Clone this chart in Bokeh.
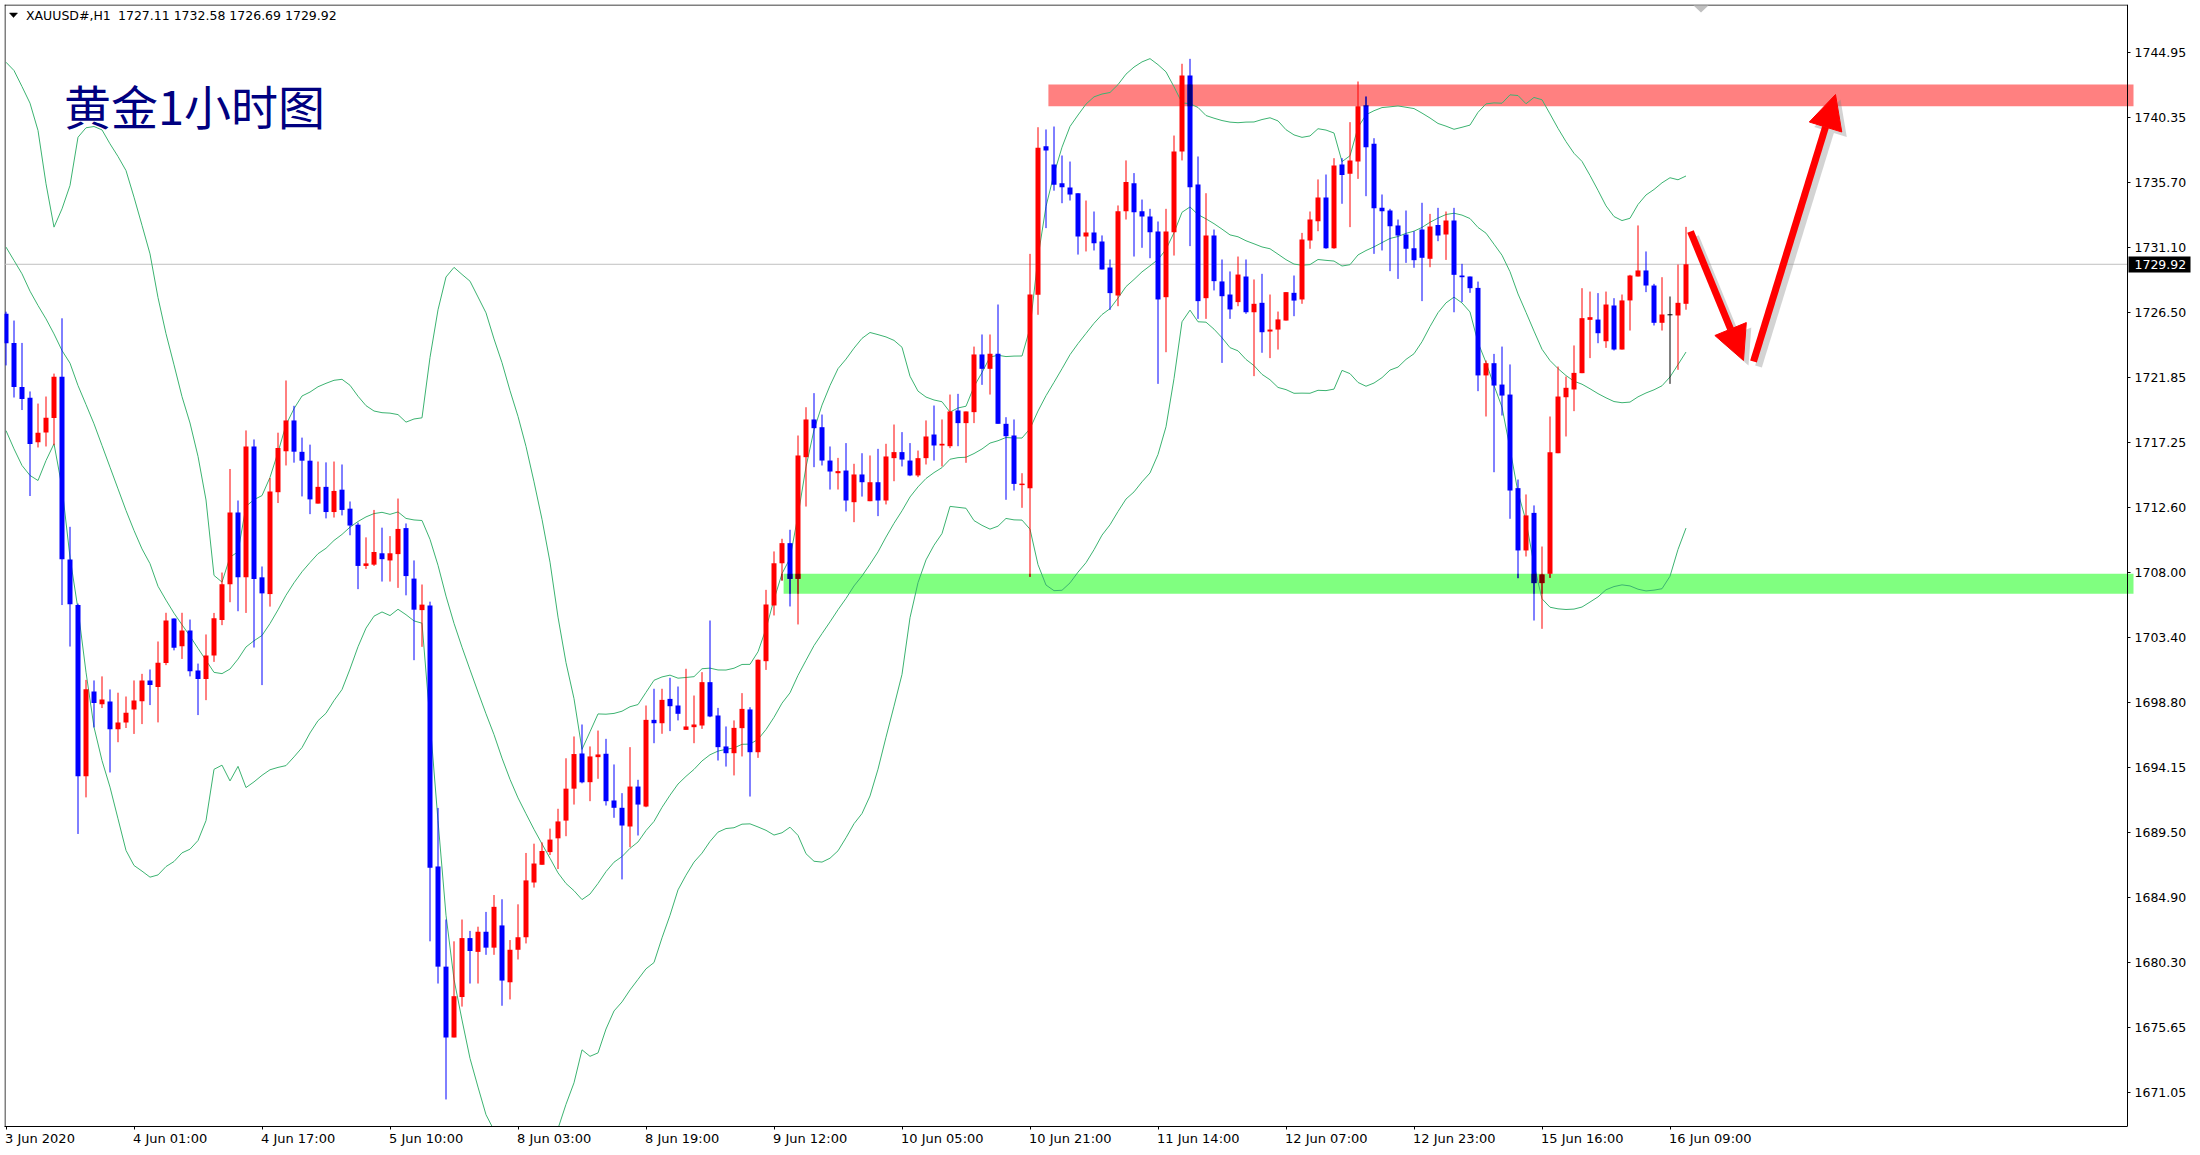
import numpy as np
import pandas as pd
from bokeh.plotting import figure
from bokeh.models import Range1d, FixedTicker, Label, Arrow, NormalHead, ColumnDataSource, LinearAxis
from bokeh.core.properties import value
from bokeh.embed import file_html
from bokeh.resources import INLINE

# ---------------- data (XAUUSD H1) ----------------
bar_open = [
    1726.40, 1724.33, 1721.20, 1720.43, 1717.27, 1717.97, 1718.99, 1721.92, 1708.94, 1705.70,
    1693.53, 1699.55, 1698.65, 1698.85, 1696.87, 1697.36, 1698.27, 1698.87, 1700.34, 1699.87,
    1701.58, 1704.75, 1702.78, 1703.89, 1701.05, 1700.44, 1702.12, 1704.63, 1707.17, 1712.27,
    1707.67, 1716.97, 1707.67, 1706.48, 1713.72, 1716.63, 1718.82, 1716.59, 1715.96, 1712.91,
    1714.10, 1712.31, 1713.90, 1712.55, 1711.41, 1708.48, 1708.57, 1709.38, 1708.87, 1709.32,
    1711.17, 1707.58, 1705.34, 1705.67, 1687.12, 1680.00, 1674.97, 1677.84, 1682.03, 1681.05,
    1682.48, 1681.35, 1682.93, 1678.89, 1681.20, 1682.09, 1685.98, 1687.24, 1688.14, 1689.12,
    1690.38, 1692.65, 1695.15, 1693.11, 1694.89, 1695.13, 1691.81, 1691.29, 1689.96, 1692.80,
    1691.38, 1697.54, 1697.30, 1699.03, 1698.56, 1696.83, 1697.02, 1697.14, 1700.22, 1697.85,
    1695.65, 1695.17, 1696.95, 1698.28, 1695.24, 1701.71, 1705.67, 1708.67, 1710.10, 1707.56,
    1716.21, 1718.89, 1718.34, 1715.97, 1715.07, 1715.26, 1713.01, 1714.98, 1713.08, 1714.43,
    1713.13, 1716.14, 1716.57, 1715.97, 1714.91, 1716.14, 1717.82, 1717.04, 1716.99, 1719.53,
    1718.63, 1719.41, 1723.51, 1722.49, 1723.56, 1718.58, 1717.75, 1714.26, 1714.01, 1727.75,
    1738.31, 1737.01, 1735.68, 1735.38, 1734.97, 1731.89, 1732.18, 1731.54, 1729.69, 1727.70,
    1733.69, 1735.68, 1733.69, 1733.31, 1732.25, 1727.58, 1732.20, 1737.94, 1743.34, 1735.59,
    1727.51, 1731.96, 1728.70, 1727.77, 1727.23, 1729.05, 1726.51, 1727.18, 1725.14, 1725.28,
    1725.92, 1727.89, 1727.42, 1731.61, 1732.98, 1734.66, 1731.06, 1737.01, 1736.35, 1737.22,
    1741.20, 1738.48, 1733.93, 1733.74, 1732.67, 1732.03, 1731.06, 1732.39, 1730.31, 1732.72,
    1732.03, 1733.03, 1729.12, 1729.05, 1728.24, 1722.02, 1722.89, 1721.37, 1720.66, 1714.01,
    1709.58, 1712.25, 1707.26, 1707.92, 1716.49, 1720.47, 1721.02, 1722.18, 1725.97, 1725.99,
    1724.45, 1726.99, 1723.86, 1727.35, 1729.05, 1729.48, 1728.41, 1725.76, 1726.33, 1726.28,
    1727.11]

bar_high = [
    1726.55, 1725.92, 1724.33, 1720.88, 1720.02, 1720.52, 1722.15, 1726.08, 1711.26, 1705.80,
    1700.38, 1700.34, 1700.63, 1699.70, 1699.47, 1699.20, 1700.34, 1700.81, 1701.12, 1703.11,
    1705.15, 1704.75, 1705.15, 1704.67, 1701.54, 1703.61, 1705.14, 1708.01, 1715.37, 1713.13,
    1718.11, 1717.47, 1708.44, 1714.73, 1717.95, 1721.66, 1719.86, 1717.60, 1717.10, 1715.90,
    1715.84, 1715.90, 1715.69, 1713.06, 1711.56, 1710.51, 1712.46, 1711.20, 1710.60, 1713.27,
    1711.50, 1708.87, 1707.16, 1705.94, 1691.28, 1683.35, 1681.80, 1683.35, 1682.54, 1682.84,
    1683.89, 1685.09, 1684.79, 1681.89, 1684.43, 1688.08, 1688.74, 1688.83, 1689.81, 1691.22,
    1694.81, 1696.36, 1697.21, 1695.65, 1696.78, 1696.19, 1694.37, 1692.33, 1695.60, 1693.28,
    1698.56, 1699.75, 1699.75, 1700.53, 1699.91, 1701.17, 1699.27, 1700.93, 1704.60, 1698.39,
    1697.07, 1697.50, 1699.44, 1698.44, 1701.83, 1706.78, 1709.51, 1710.41, 1711.05, 1717.75,
    1719.76, 1720.76, 1719.24, 1716.97, 1716.16, 1717.21, 1715.74, 1716.49, 1716.33, 1716.80,
    1717.16, 1718.53, 1717.99, 1717.21, 1716.68, 1718.82, 1719.88, 1718.89, 1720.66, 1720.71,
    1719.46, 1724.07, 1724.93, 1724.93, 1727.06, 1719.05, 1718.89, 1715.07, 1730.66, 1739.66,
    1739.50, 1739.71, 1737.65, 1737.22, 1734.97, 1734.45, 1733.67, 1731.97, 1730.26, 1734.10,
    1737.30, 1736.40, 1734.52, 1733.86, 1732.96, 1733.86, 1739.07, 1744.17, 1744.52, 1737.58,
    1734.97, 1732.39, 1730.26, 1729.41, 1730.47, 1730.26, 1728.84, 1729.24, 1727.77, 1726.56,
    1727.94, 1729.12, 1732.15, 1733.67, 1735.95, 1736.30, 1737.46, 1737.46, 1740.02, 1742.91,
    1741.84, 1738.88, 1734.88, 1733.86, 1733.10, 1733.74, 1732.27, 1734.29, 1733.50, 1733.93,
    1733.67, 1733.93, 1729.95, 1729.05, 1728.69, 1723.08, 1723.55, 1724.07, 1722.80, 1714.62,
    1713.56, 1712.78, 1709.86, 1719.10, 1722.65, 1721.94, 1724.15, 1728.22, 1727.98, 1727.87,
    1727.98, 1727.51, 1727.77, 1729.17, 1732.68, 1730.83, 1728.53, 1729.00, 1727.63, 1729.90,
    1732.58]

bar_low = [
    1722.73, 1720.45, 1719.56, 1713.45, 1716.90, 1716.97, 1717.06, 1705.70, 1702.75, 1689.43,
    1692.03, 1697.00, 1698.38, 1693.80, 1695.95, 1696.96, 1696.54, 1697.24, 1698.59, 1697.36,
    1701.43, 1702.48, 1701.87, 1700.63, 1697.88, 1698.94, 1701.66, 1704.27, 1705.90, 1705.26,
    1705.14, 1702.68, 1700.01, 1705.59, 1712.95, 1715.62, 1715.82, 1713.42, 1712.16, 1712.91,
    1711.86, 1711.92, 1712.07, 1710.66, 1706.83, 1708.27, 1708.48, 1707.37, 1707.37, 1706.92,
    1706.39, 1701.78, 1702.73, 1681.80, 1678.80, 1670.56, 1674.97, 1677.16, 1678.80, 1678.80,
    1680.84, 1680.84, 1677.22, 1677.67, 1680.51, 1681.65, 1685.62, 1687.24, 1687.93, 1686.94,
    1689.27, 1691.52, 1693.03, 1691.76, 1693.35, 1691.45, 1690.58, 1686.20, 1688.49, 1689.32,
    1691.33, 1695.88, 1696.55, 1696.74, 1697.50, 1696.83, 1695.88, 1696.90, 1697.73, 1694.65,
    1694.22, 1693.59, 1694.94, 1692.09, 1694.84, 1701.09, 1704.96, 1707.44, 1705.60, 1704.32,
    1712.70, 1715.50, 1715.62, 1713.91, 1713.91, 1712.35, 1711.59, 1713.41, 1713.08, 1712.02,
    1712.85, 1714.50, 1715.55, 1714.86, 1714.79, 1715.69, 1715.97, 1715.55, 1716.85, 1716.99,
    1715.81, 1718.63, 1721.35, 1720.66, 1718.58, 1713.18, 1713.84, 1712.61, 1707.70, 1726.33,
    1732.49, 1735.15, 1734.26, 1734.45, 1730.61, 1730.83, 1730.90, 1729.55, 1726.68, 1726.94,
    1733.10, 1730.47, 1731.09, 1730.35, 1721.42, 1723.67, 1730.54, 1737.30, 1731.21, 1726.04,
    1726.04, 1728.06, 1722.91, 1726.04, 1726.94, 1726.40, 1721.97, 1723.63, 1723.25, 1723.86,
    1725.92, 1726.23, 1727.11, 1731.02, 1732.27, 1731.02, 1731.02, 1734.22, 1732.56, 1735.99,
    1734.76, 1730.66, 1730.90, 1729.43, 1728.88, 1730.02, 1729.67, 1727.30, 1729.71, 1731.56,
    1730.23, 1726.51, 1727.23, 1727.89, 1720.90, 1719.10, 1715.14, 1719.17, 1711.83, 1707.61,
    1709.15, 1704.60, 1704.01, 1707.63, 1716.49, 1717.68, 1719.48, 1722.18, 1723.25, 1724.31,
    1723.98, 1723.79, 1723.86, 1725.21, 1729.05, 1727.94, 1725.57, 1725.21, 1721.42, 1722.42,
    1726.69]

bar_close = [
    1724.30, 1721.20, 1720.34, 1717.15, 1717.94, 1719.02, 1721.92, 1708.96, 1705.75, 1693.53,
    1699.71, 1698.73, 1698.99, 1696.87, 1697.35, 1698.05, 1698.92, 1700.34, 1700.02, 1701.60,
    1704.60, 1702.66, 1703.89, 1701.00, 1700.45, 1702.12, 1704.76, 1707.17, 1712.27, 1707.67,
    1716.97, 1707.55, 1706.53, 1713.77, 1716.86, 1718.82, 1716.60, 1715.96, 1713.21, 1714.10,
    1712.31, 1713.81, 1712.46, 1711.35, 1708.48, 1708.66, 1709.47, 1708.96, 1709.38, 1711.11,
    1707.76, 1705.37, 1705.73, 1687.03, 1680.00, 1674.97, 1677.90, 1682.03, 1681.11, 1682.48,
    1681.35, 1684.25, 1679.01, 1681.20, 1682.09, 1686.13, 1687.33, 1688.22, 1689.03, 1690.32,
    1692.65, 1695.11, 1693.10, 1694.94, 1695.08, 1691.76, 1691.29, 1690.03, 1692.80, 1691.52,
    1697.54, 1697.30, 1698.96, 1698.51, 1697.97, 1697.07, 1697.21, 1700.22, 1697.78, 1695.60,
    1695.17, 1696.97, 1698.32, 1695.24, 1701.81, 1705.74, 1708.67, 1710.10, 1707.56, 1716.33,
    1718.89, 1718.27, 1715.97, 1715.19, 1715.22, 1713.13, 1714.98, 1714.43, 1714.43, 1713.13,
    1716.26, 1716.57, 1716.04, 1714.91, 1716.14, 1717.68, 1717.04, 1717.16, 1719.46, 1718.63,
    1719.46, 1723.51, 1722.49, 1723.56, 1718.58, 1717.70, 1714.31, 1714.33, 1727.77, 1738.20,
    1738.01, 1735.57, 1735.40, 1734.88, 1731.89, 1732.18, 1731.42, 1729.55, 1727.87, 1733.69,
    1735.76, 1733.62, 1733.31, 1732.20, 1727.42, 1732.25, 1737.94, 1743.34, 1735.40, 1727.30,
    1731.96, 1728.72, 1727.65, 1726.71, 1729.19, 1726.51, 1727.11, 1725.09, 1725.28, 1726.00,
    1727.94, 1727.34, 1731.68, 1733.10, 1734.66, 1731.06, 1736.94, 1736.27, 1737.30, 1741.16,
    1738.24, 1733.91, 1733.69, 1732.63, 1731.96, 1731.02, 1730.21, 1730.38, 1732.60, 1731.96,
    1733.03, 1729.17, 1729.00, 1728.22, 1722.02, 1722.89, 1721.30, 1720.59, 1713.84, 1709.58,
    1712.07, 1707.26, 1707.87, 1716.56, 1720.52, 1721.14, 1722.20, 1726.09, 1726.16, 1725.02,
    1727.06, 1723.86, 1727.35, 1729.12, 1729.48, 1728.41, 1725.76, 1726.35, 1726.33, 1727.18,
    1729.92]

# Bollinger band values for the first 19 bars (history before the window)
bb_upper_head = [1744.28, 1743.69, 1742.55, 1741.37, 1739.43, 1735.64, 1732.56, 1733.86, 1735.52, 1738.95,
                 1739.62, 1739.71, 1739.47, 1738.48, 1737.58, 1736.58, 1734.69, 1732.69, 1730.66]
bb_mid_head = [1731.14, 1730.19, 1729.24, 1728.01, 1726.99, 1726.04, 1724.97, 1723.79, 1722.89, 1721.30,
               1719.95, 1718.58, 1717.04, 1715.50, 1713.96, 1712.42, 1711.00, 1709.69, 1708.64]
bb_lower_head = [1718.10, 1716.80, 1715.62, 1714.91, 1714.55, 1715.97, 1717.16, 1714.07, 1709.10, 1705.40,
                 1700.93, 1697.02, 1694.65, 1692.76, 1690.51, 1688.26, 1687.19, 1686.79, 1686.36]
bb_period = 20
bb_dev = 2.0

x_tick_bars = [0, 16, 32, 48, 64, 80, 96, 112, 128, 144, 160, 176, 192, 208]
x_tick_labels = ["3 Jun 2020", "4 Jun 01:00", "4 Jun 17:00", "5 Jun 10:00", "8 Jun 03:00",
                 "8 Jun 19:00", "9 Jun 12:00", "10 Jun 05:00", "10 Jun 21:00", "11 Jun 14:00",
                 "12 Jun 07:00", "12 Jun 23:00", "15 Jun 16:00", "16 Jun 09:00"]
y_tick_values = [1744.95, 1740.35, 1735.70, 1731.10, 1726.50, 1721.85, 1717.25, 1712.60, 1708.00,
                 1703.40, 1698.80, 1694.15, 1689.50, 1684.90, 1680.30, 1675.65, 1671.05]
y_tick_labels = ["1744.95", "1740.35", "1735.70", "1731.10", "1726.50", "1721.85", "1717.25", "1712.60",
                 "1708.00", "1703.40", "1698.80", "1694.15", "1689.50", "1684.90", "1680.30", "1675.65",
                 "1671.05"]

support_zone = [1706.50, 1707.92]
support_start_bar = 97.2
resistance_zone = [1741.15, 1742.70]
resistance_start_bar = 130.3
last_price = 1729.92
header_symbol = "XAUUSD#,H1"
header_ohlc = "1727.11 1732.58 1726.69 1729.92"
chart_title = "黄金1小时图"

# ---------------- styling / geometry ----------------
UP, DOWN, DOJI = "#ff0000", "#0000ff", "#000000"
BAND = "#3cb371"
SUPPORT_COL, RESIST_COL = "#80ff80", "#ff8080"
FONT = "DejaVu Sans"
BAR0_PX, BAR_PX = 5.5, 8.0                 # canvas px of bar 0 centre, px per bar
REF_PRICE, REF_PX, PX_PER_USD = 1744.95, 52.3, 14.07


def dx(px):
    return (px - BAR0_PX) / BAR_PX


def dy(py):
    return REF_PRICE - (py - REF_PX) / PX_PER_USD


W, H = 2200, 1155
FRAME_L, FRAME_T, FRAME_R, FRAME_B = 4, 4, 2198, 1126
AXIS_X = 2127            # price scale line
ZONE_END_X = 2133

p = figure(frame_width=FRAME_R - FRAME_L, frame_height=FRAME_B - FRAME_T,
           output_backend="svg", toolbar_location=None,
           x_range=Range1d(dx(FRAME_L), dx(FRAME_R)), y_range=Range1d(dy(FRAME_B), dy(FRAME_T)),
           y_axis_location="right",
           min_border_left=FRAME_L, min_border_top=FRAME_T,
           min_border_right=W - FRAME_R, min_border_bottom=H - FRAME_B)
p.background_fill_color = "white"
p.border_fill_color = "white"
p.outline_line_color = None
p.xgrid.visible = False
p.ygrid.visible = False

# x axis: tick marks only (line limited to the chart area)
xa = p.xaxis[0]
xa.ticker = FixedTicker(ticks=x_tick_bars)
xa.bounds = (dx(FRAME_L), dx(AXIS_X))
xa.major_label_overrides = {float(t): "" for t in x_tick_bars}
xa.major_label_text_font_size = "1px"
xa.major_label_standoff = 0
xa.major_tick_out = 3
xa.major_tick_in = 0
xa.minor_tick_out = 0
xa.minor_tick_in = 0
xa.axis_line_color = "black"
xa.major_tick_line_color = "black"

# x axis labels: text starts at its tick (label centre = tick + half the text width)
LBL_SIZE = 13.0
ADV = {"0": 0.636, "1": 0.636, "2": 0.636, "3": 0.636, "4": 0.636, "5": 0.636, "6": 0.636,
       "7": 0.636, "8": 0.636, "9": 0.636, " ": 0.318, "J": 0.295, "u": 0.634, "n": 0.634, ":": 0.337}
centers = []
for t, s in zip(x_tick_bars, x_tick_labels):
    w = sum(ADV.get(ch, 0.6) for ch in s) * LBL_SIZE
    start = max(FRAME_L, BAR0_PX + t * BAR_PX - 1)
    centers.append(dx(start + w / 2.0))
xl = LinearAxis(ticker=FixedTicker(ticks=centers),
                major_label_overrides={cx: s for cx, s in zip(centers, x_tick_labels)})
xl.major_label_text_font = FONT
xl.major_label_text_font_size = "13px"
xl.major_label_text_color = "black"
xl.major_label_standoff = 1
xl.major_tick_out = 0
xl.major_tick_in = 0
xl.minor_tick_out = 0
xl.minor_tick_in = 0
xl.axis_line_color = None
p.add_layout(xl, "below")

# price scale, drawn at the right edge of the chart area
ya = p.yaxis[0]
ya.fixed_location = dx(AXIS_X)
ya.ticker = FixedTicker(ticks=y_tick_values)
ya.major_label_overrides = {v: s for v, s in zip(y_tick_values, y_tick_labels)}
ya.major_label_text_font = FONT
ya.major_label_text_font_size = "12.5px"
ya.major_label_text_color = "black"
ya.major_label_standoff = 4
ya.major_tick_out = 3
ya.major_tick_in = 0
ya.minor_tick_out = 0
ya.minor_tick_in = 0
ya.axis_line_color = "black"
ya.major_tick_line_color = "black"

# chart frame (left and top edges)
p.segment(x0=[dx(4.5), dx(4)], y0=[dy(4), dy(4.5)], x1=[dx(4.5), dx(AXIS_X)], y1=[dy(FRAME_B), dy(4.5)],
          line_color="black", line_width=1)

# current price line
p.segment(x0=[dx(FRAME_L)], y0=[last_price], x1=[dx(AXIS_X)], y1=[last_price], line_color="#c0c0c0",
          line_width=1)

# ---------------- zones ----------------
p.quad(left=[support_start_bar], right=[dx(ZONE_END_X)], bottom=[support_zone[0]], top=[support_zone[1]],
       fill_color=SUPPORT_COL, line_color=None)
p.quad(left=[resistance_start_bar], right=[dx(ZONE_END_X)], bottom=[resistance_zone[0]],
       top=[resistance_zone[1]], fill_color=RESIST_COL, line_color=None)

# ---------------- Bollinger bands (20, 2) ----------------
o = np.array(bar_open)
h = np.array(bar_high)
l = np.array(bar_low)
c = np.array(bar_close)
n = len(c)
idx = np.arange(n)

cs = pd.Series(c)
mid = cs.rolling(bb_period).mean().to_numpy()
sd = cs.rolling(bb_period).std(ddof=0).to_numpy()
upper = mid + bb_dev * sd
lower = mid - bb_dev * sd
k = len(bb_mid_head)
mid[:k] = bb_mid_head
upper[:k] = bb_upper_head
lower[:k] = bb_lower_head
for arr in (upper, mid, lower):
    p.line(idx, arr, line_color=BAND, line_width=1)

# ---------------- candles ----------------
col = np.where(c > o, UP, np.where(c < o, DOWN, DOJI))
half = 2.5 / BAR_PX
src = ColumnDataSource(dict(x=idx, xl=idx - half, xr=idx + half, o=o, h=h, l=l, c=c,
                            top=np.maximum(o, c), bot=np.minimum(o, c), col=col))
p.segment(x0="x", y0="l", x1="x", y1="h", line_color="col", line_width=1, source=src)
p.quad(left="xl", right="xr", top="top", bottom="bot", fill_color="col", line_color=None, source=src)
thin = np.abs(c - o) < 0.08
p.segment(x0=(idx - half)[thin], y0=o[thin], x1=(idx + half)[thin], y1=o[thin],
          line_color=list(col[thin]), line_width=1)


# candle parts inside the zones are drawn with the zone colour AND-ed in (as on the terminal)
def and_col(a, b):
    return "#%06x" % (int(a[1:], 16) & int(b[1:], 16))


ov_q = dict(left=[], right=[], top=[], bottom=[], color=[])
ov_s = dict(x=[], y0=[], y1=[], color=[])
for zlo, zhi, zstart, zcol in [(support_zone[0], support_zone[1], support_start_bar, SUPPORT_COL),
                               (resistance_zone[0], resistance_zone[1], resistance_start_bar, RESIST_COL)]:
    for i in range(n):
        if i + half < zstart:
            continue
        cc = and_col(col[i], zcol)
        if cc == col[i]:
            continue
        lo, hi = max(l[i], zlo), min(h[i], zhi)
        if hi > lo:
            ov_s["x"].append(i); ov_s["y0"].append(lo); ov_s["y1"].append(hi); ov_s["color"].append(cc)
        bt, bb = max(o[i], c[i]), min(o[i], c[i])
        lo, hi = max(bb, zlo), min(bt, zhi)
        if hi > lo:
            ov_q["left"].append(i - half); ov_q["right"].append(i + half)
            ov_q["top"].append(hi); ov_q["bottom"].append(lo); ov_q["color"].append(cc)
p.segment(x0="x", y0="y0", x1="x", y1="y1", line_color="color", line_width=1,
          source=ColumnDataSource(ov_s))
p.quad(left="left", right="right", top="top", bottom="bottom", fill_color="color", line_color=None,
       source=ColumnDataSource(ov_q))

# ---------------- drawn arrows (canvas px -> data) ----------------
arrows_px = [((1690, 231), (1743, 360)), ((1753, 361), (1835, 94))]
for (x0, y0), (x1, y1) in arrows_px:
    p.add_layout(Arrow(end=NormalHead(size=34, fill_color="#808080", line_color=None, fill_alpha=0.35),
                       x_start=dx(x0 + 5), y_start=dy(y0 + 5), x_end=dx(x1 + 5), y_end=dy(y1 + 5),
                       line_color="#808080", line_alpha=0.35, line_width=7))
for (x0, y0), (x1, y1) in arrows_px:
    p.add_layout(Arrow(end=NormalHead(size=34, fill_color="#ff0000", line_color="#ff0000", line_width=1),
                       x_start=dx(x0), y_start=dy(y0), x_end=dx(x1), y_end=dy(y1),
                       line_color="#ff0000", line_width=7))

# small markers
p.patch([dx(9), dx(17), dx(13)], [dy(12.5), dy(12.5), dy(17)], fill_color="black", line_color="black",
        line_width=0.5)
p.patch([dx(1693), dx(1708), dx(1700.5)], [dy(5), dy(5), dy(12)], fill_color="#c0c0c0",
        line_color=None)

# current price tag on the price scale
p.quad(left=[dx(2128)], right=[dx(2190)], top=[dy(256)], bottom=[dy(272)], fill_color="black",
       line_color=None)
p.text(x=[dx(2134)], y=[last_price], text=["%.2f" % last_price], text_font=value(FONT),
       text_font_size="12.5px", text_color="white", text_align="left", text_baseline="middle")

# ---------------- texts ----------------
p.add_layout(Label(x=dx(25.5), y=dy(15.0), text=header_symbol, text_font=FONT,
                   text_font_size="12.5px", text_color="black", text_baseline="alphabetic"))
p.add_layout(Label(x=dx(117.5), y=dy(15.0), text=header_ohlc, text_font=FONT,
                   text_font_size="12.5px", text_color="black", text_baseline="alphabetic"))
p.add_layout(Label(x=dx(63.5), y=dy(103.5), text=chart_title, text_font="Noto Sans CJK SC",
                   text_font_size="47px", text_color="#000080", text_baseline="alphabetic"))

open("out.html", "w").write(file_html(p, INLINE))
